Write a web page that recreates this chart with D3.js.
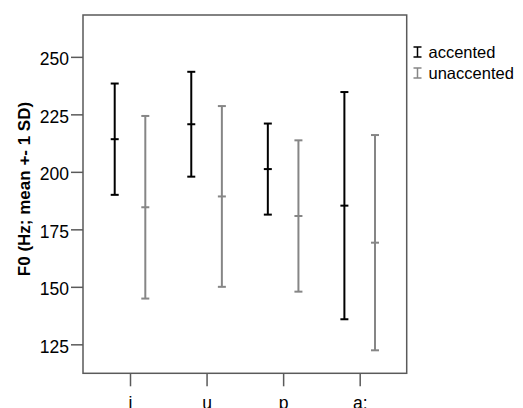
<!DOCTYPE html>
<html>
<head>
<meta charset="utf-8">
<script src="https://cdn.jsdelivr.net/npm/d3@7"></script>
<style>
  body { margin: 0; background: #fff; }
  text { font-family: "Liberation Sans", Arial, sans-serif; }
</style>
</head>
<body>
<div id="chart"></div>
<script>
// Data
const categories = ["i", "u", "p", "a:"];
const series = ["accented", "unaccented"];
const seriesColors = ["#000000", "#868686"];
const accentedMean = [214.2, 220.7, 201.2, 185.3];
const accentedSD = [24.2, 22.8, 19.8, 49.4];
const unaccentedMean = [184.6, 189.3, 180.8, 169.2];
const unaccentedSD = [39.7, 39.3, 32.9, 46.8];
const yTicks = [125, 150, 175, 200, 225, 250];

const rows = [];
categories.forEach((c, i) => {
  rows.push({ cat: c, series: "accented", mean: accentedMean[i], sd: accentedSD[i] });
  rows.push({ cat: c, series: "unaccented", mean: unaccentedMean[i], sd: unaccentedSD[i] });
});

// Dimensions
const dimensions = {
  width: 523,
  height: 408,
  margin: { top: 15, left: 83, right: 116.3, bottom: 34.7 },
};
dimensions.containerWidth =
  dimensions.width - dimensions.margin.left - dimensions.margin.right;
dimensions.containerHeight =
  dimensions.height - dimensions.margin.top - dimensions.margin.bottom;

const svg = d3
  .select("#chart")
  .append("svg")
  .attr("width", dimensions.width)
  .attr("height", dimensions.height);

const container = svg
  .append("g")
  .attr("transform", `translate(${dimensions.margin.left}, ${dimensions.margin.top})`);

// Scales
const xScale = d3
  .scalePoint()
  .domain(categories)
  .range([0, dimensions.containerWidth])
  .padding(0.614);

const offsetScale = d3.scalePoint().domain(series).range([-15.3, 15.3]);

const yScale = d3
  .scaleLinear()
  .domain([112.4, 268.2])
  .range([dimensions.containerHeight, 0]);

const colorScale = d3.scaleOrdinal().domain(series).range(seriesColors);

// Frame
container
  .append("rect")
  .attr("width", dimensions.containerWidth)
  .attr("height", dimensions.containerHeight)
  .attr("fill", "none")
  .attr("stroke", "#5a5a5a")
  .attr("stroke-width", 1.5);

// Axes
const yAxis = d3.axisLeft(yScale).tickValues(yTicks).tickSize(12).tickPadding(2);
const yAxisGroup = container.append("g").call(yAxis);
yAxisGroup.select(".domain").remove();
yAxisGroup.selectAll(".tick line").attr("stroke", "#5a5a5a").attr("stroke-width", 1.5);
yAxisGroup
  .selectAll(".tick text")
  .attr("fill", "#000")
  .attr("dy", "0.45em")
  .style("font-size", "17.5px");

const xAxis = d3.axisBottom(xScale).tickSize(13);
const xAxisGroup = container
  .append("g")
  .attr("transform", `translate(0, ${dimensions.containerHeight})`)
  .call(xAxis);
xAxisGroup.select(".domain").remove();
xAxisGroup.selectAll(".tick line").attr("stroke", "#5a5a5a").attr("stroke-width", 1.5);
xAxisGroup
  .selectAll(".tick text")
  .attr("fill", "#000")
  .attr("y", 36)
  .attr("dy", null)
  .style("font-size", "17.5px");

svg
  .append("text")
  .attr("transform", `translate(30, ${dimensions.margin.top + 174}) rotate(-90)`)
  .attr("text-anchor", "middle")
  .style("font-size", "17px")
  .style("font-weight", "bold")
  .text("F0 (Hz; mean +- 1 SD)");

// Error bars
const capHalf = 4;
const bars = container
  .append("g")
  .selectAll("g")
  .data(rows)
  .join("g")
  .attr("transform", (d) => `translate(${xScale(d.cat) + offsetScale(d.series)}, 0)`)
  .attr("stroke", (d) => colorScale(d.series))
  .attr("stroke-width", 2);

bars
  .append("line")
  .attr("y1", (d) => yScale(d.mean + d.sd))
  .attr("y2", (d) => yScale(d.mean - d.sd));

[(d) => d.mean + d.sd, (d) => d.mean, (d) => d.mean - d.sd].forEach((acc) => {
  bars
    .append("line")
    .attr("x1", -capHalf)
    .attr("x2", capHalf)
    .attr("y1", (d) => yScale(acc(d)))
    .attr("y2", (d) => yScale(acc(d)));
});

// Legend
const legend = svg
  .append("g")
  .selectAll("g")
  .data(series)
  .join("g")
  .attr("transform", (d, i) => `translate(417.5, ${52 + i * 21})`);

legend
  .append("path")
  .attr("d", "M-4,-5H4M0,-5V5M-4,5H4")
  .attr("fill", "none")
  .attr("stroke", (d) => colorScale(d))
  .attr("stroke-width", 1.5);

legend
  .append("text")
  .attr("x", 11)
  .attr("y", 6)
  .style("font-size", "16.5px")
  .text((d) => d);
</script>
</body>
</html>
